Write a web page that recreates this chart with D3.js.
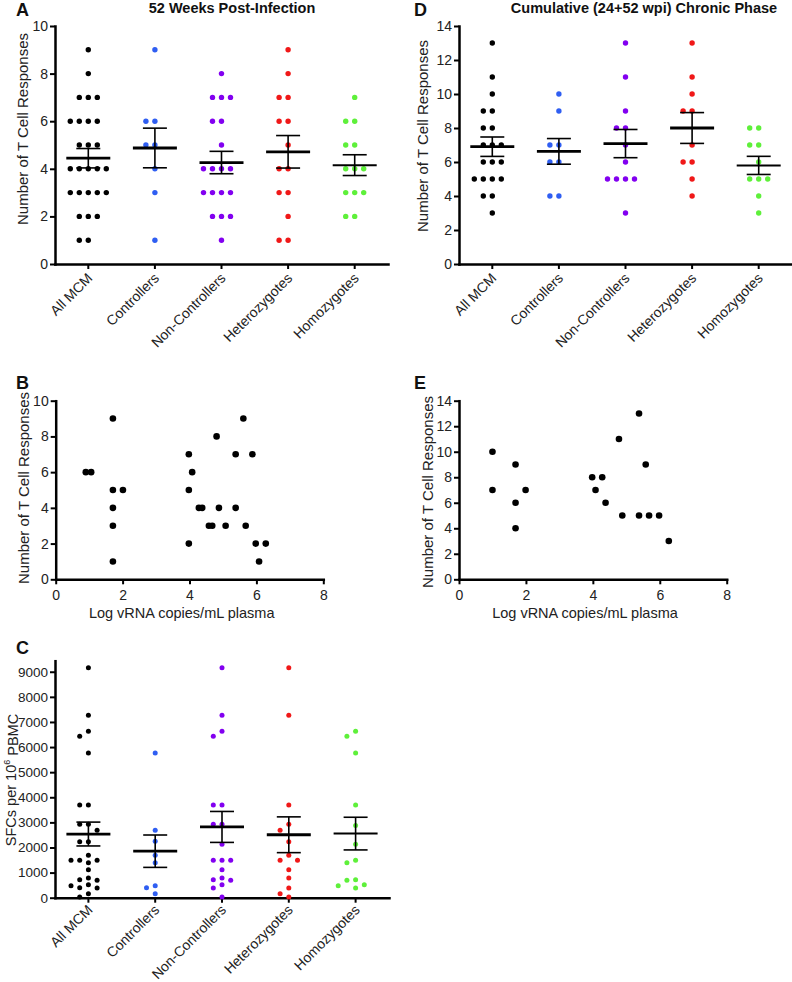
<!DOCTYPE html>
<html><head><meta charset="utf-8">
<script src="https://cdn.jsdelivr.net/npm/d3@7"></script>
<style>body{margin:0;background:#fff} svg{display:block}</style>
</head><body><svg id="chart" width="792" height="982"></svg>
<script>
const FONT = '"Liberation Sans", Arial, Helvetica, sans-serif';
const categories = ["All MCM", "Controllers", "Non-Controllers", "Heterozygotes", "Homozygotes"];
const groupColors = ["#000000", "#2f5ef2", "#8200f0", "#f01818", "#5ef03a"];

// Panel A: 52 weeks post-infection, number of T cell responses
const aAllMCM = [9,8,7,7,7,6,6,6,6,5,5,5,4,4,4,4,4,3,3,3,3,3,2,2,2,1,1];
const aControllers = [9,6,6,5,5,4,3,1];
const aNonControllers = [8,7,7,7,6,6,5,4,4,4,4,3,3,3,3,2,2,2,1];
const aHeterozygotes = [9,8,7,7,6,6,5,4,4,3,3,2,1,1];
const aHomozygotes = [7,6,6,5,5,4,4,4,3,3,3,2,2];
const aTicks = [0,2,4,6,8,10];

// Panel D: cumulative (24+52 wpi) chronic phase
const dAllMCM = [13,11,10,9,9,8,8,7,7,7,6,6,6,5,5,5,5,4,4,3];
const dControllers = [10,9,7,7,6,6,4,4];
const dNonControllers = [13,11,9,8,8,7,6,5,5,5,5,3];
const dHeterozygotes = [13,11,10,9,9,7,6,6,5,4];
const dHomozygotes = [8,8,7,7,6,5,5,5,4,3];
const dTicks = [0,2,4,6,8,10,12,14];

// Panel B: log vRNA vs responses (52 wpi)
const bLogVRNA = [0.9,1.06,1.71,1.71,2.01,1.71,1.71,1.71,3.98,4.08,3.98,3.98,4.28,4.38,4.81,4.88,4.58,4.68,5.08,5.61,5.38,5.88,5.38,5.68,5.98,6.28,6.08];
const bResponses = [6,6,9,5,5,4,3,1,7,6,5,2,4,4,8,4,3,3,3,9,7,7,4,3,2,2,1];
const bYTicks = [0,2,4,6,8,10];

// Panel E: log vRNA vs cumulative responses
const eLogVRNA = [1.0,1.0,1.69,1.69,1.69,1.99,3.98,4.28,4.08,4.38,4.78,4.88,5.38,5.58,5.38,5.68,5.98,6.27];
const eResponses = [10,7,9,6,4,7,8,8,7,6,11,5,13,9,5,5,5,3];
const eYTicks = [0,2,4,6,8,10,12,14];
const vrnaTicks = [0,2,4,6,8];

// Panel C: SFCs per 10^6 PBMC
const cAllMCM = [9157,7270,6632,6432,5768,3695,3695,2924,2924,2685,2233,2230,1688,1490,1490,1490,1395,1116,784,718,691,518,478,399,385,160,30];
const cControllers = [5768,2685,2246,1688,1395,478,399,160];
const cNonControllers = [9157,7270,6632,6432,3695,3695,2924,2924,2126,1488,1488,1488,1116,784,718,691,518,385,27];
const cHeterozygotes = [9157,7270,3695,2924,2685,2233,1688,1488,1488,1116,784,385,160,27];
const cHomozygotes = [6632,6432,5768,3695,2871,2126,1488,1395,718,691,518,478,385];
const cTicks = [0,1000,2000,3000,4000,5000,6000,7000,8000,9000];

const svg = d3.select("#chart");

function styleAxis(ax, fs) {
  ax.attr("font-family", FONT).attr("font-size", fs);
  ax.select(".domain").attr("stroke", "#000").attr("stroke-width", 2.5).attr("stroke-linecap", "square");
  ax.selectAll(".tick line").attr("stroke", "#000").attr("stroke-width", 2);
  ax.selectAll(".tick text").attr("fill", "#222");
}

function yAxis(scale, ticks, x, fmt) {
  const ax = svg.append("g").attr("transform", `translate(${x},0)`)
    .call(d3.axisLeft(scale).tickValues(ticks).tickSize(5).tickSizeOuter(0).tickPadding(2).tickFormat(fmt || d3.format("d")));
  styleAxis(ax, 14);
  return ax;
}

function yLabel(text, x, y, fs) {
  return svg.append("text").attr("transform", `translate(${x},${y}) rotate(-90)`)
    .attr("text-anchor", "middle").attr("dominant-baseline", "central")
    .attr("font-family", FONT).attr("font-size", fs || 15).attr("fill", "#222").text(text);
}

function panelLetter(t, x, y) {
  svg.append("text").attr("x", x).attr("y", y).attr("font-family", FONT)
    .attr("font-weight", "bold").attr("font-size", 18).attr("fill", "#111").text(t);
}

function swarm(values, yScale, thr) {
  const sorted = values.map(v => ({v, y: yScale(v)})).sort((a, b) => a.y - b.y);
  const placed = [];
  const cands = [0, -1, 1, -2, 2, -3, 3, -4, 4];
  sorted.forEach(p => {
    for (const k of cands) {
      if (!placed.some(q => q.k === k && Math.abs(q.y - p.y) < thr)) { p.k = k; break; }
    }
    placed.push(p);
  });
  return placed;
}

function dotPanel(cfg) {
  const x = d3.scaleBand().domain(categories).range([cfg.x0, cfg.x1]);
  const y = d3.scaleLinear().domain(cfg.domain).range([cfg.yBot, cfg.yTop]);
  const bw = x.bandwidth();
  const yax = yAxis(y, cfg.ticks, cfg.x0, cfg.fmt);
  if (cfg.tickFs) yax.attr("font-size", cfg.tickFs);
  const xax = svg.append("g").attr("transform", `translate(0,${cfg.yBot})`)
    .call(d3.axisBottom(x).tickSize(5).tickSizeOuter(0));
  styleAxis(xax, 14);
  xax.selectAll(".tick text").attr("x", 0).attr("y", 0).attr("dy", 0)
    .attr("text-anchor", "end").attr("transform", `translate(5,${cfg.labelDy}) rotate(-45)`);
  cfg.series.forEach((vals, i) => {
    const cx = x(categories[i]) + bw / 2;
    const pts = swarm(vals, y, cfg.thr);
    svg.append("g").selectAll("circle").data(pts).join("circle")
      .attr("cx", d => cx + d.k * cfg.step).attr("cy", d => d.y)
      .attr("r", cfg.r).attr("fill", groupColors[i]);
  });
  cfg.series.forEach((vals, i) => {
    const cx = x(categories[i]) + bw / 2;
    const m = d3.mean(vals);
    const se = d3.deviation(vals) / Math.sqrt(vals.length);
    const g = svg.append("g").attr("stroke", "#000");
    g.append("line").attr("x1", cx - 22).attr("x2", cx + 22).attr("y1", y(m)).attr("y2", y(m)).attr("stroke-width", i === 4 ? 2 : 2.8);
    g.append("line").attr("x1", cx).attr("x2", cx).attr("y1", y(m - se)).attr("y2", y(m + se)).attr("stroke-width", 1.6);
    [m - se, m + se].forEach(v => g.append("line").attr("x1", cx - 12).attr("x2", cx + 12).attr("y1", y(v)).attr("y2", y(v)).attr("stroke-width", 1.6));
  });
}

function scatterPanel(cfg) {
  const x = d3.scaleLinear().domain([0, 8]).range([cfg.x0, cfg.x1]);
  const y = d3.scaleLinear().domain(cfg.domain).range([cfg.yBot, cfg.yTop]);
  yAxis(y, cfg.ticks, cfg.x0);
  const xax = svg.append("g").attr("transform", `translate(0,${cfg.yBot})`)
    .call(d3.axisBottom(x).tickValues(vrnaTicks).tickSize(5).tickSizeOuter(0).tickPadding(6).tickFormat(d3.format("d")));
  styleAxis(xax, 14);
  svg.append("g").selectAll("circle").data(cfg.xs).join("circle")
    .attr("cx", d => x(d)).attr("cy", (d, i) => y(cfg.ys[i])).attr("r", 3.3).attr("fill", "#000");
  svg.append("text").attr("x", cfg.x0 + 126).attr("y", cfg.yBot + 39)
    .attr("text-anchor", "middle").attr("font-family", FONT).attr("font-size", 14.5).attr("fill", "#222")
    .text("Log vRNA copies/mL plasma");
}

panelLetter("A", 16, 16);
panelLetter("D", 414, 16);
panelLetter("B", 16, 389);
panelLetter("E", 414, 389);
panelLetter("C", 16, 654);
svg.append("text").attr("x", 232).attr("y", 13).attr("text-anchor", "middle").attr("font-family", FONT)
  .attr("font-weight", "bold").attr("font-size", 14.5).attr("fill", "#111").text("52 Weeks Post-Infection");
svg.append("text").attr("x", 644).attr("y", 13).attr("text-anchor", "middle").attr("font-family", FONT)
  .attr("font-weight", "bold").attr("font-size", 14.5).attr("fill", "#111").text("Cumulative (24+52 wpi) Chronic Phase");

dotPanel({x0: 55, x1: 388, yTop: 26, yBot: 264, domain: [0, 10], ticks: aTicks, r: 2.7, step: 9, thr: 6, labelDy: 15,
  series: [aAllMCM, aControllers, aNonControllers, aHeterozygotes, aHomozygotes]});
yLabel("Number of T Cell Responses", 22, 129);

dotPanel({x0: 459, x1: 792, yTop: 26, yBot: 264, domain: [0, 14], ticks: dTicks, r: 2.7, step: 9, thr: 6, labelDy: 15,
  series: [dAllMCM, dControllers, dNonControllers, dHeterozygotes, dHomozygotes]});
yLabel("Number of T Cell Responses", 422, 136);

scatterPanel({x0: 55.7, x1: 323.3, yTop: 400.7, yBot: 579.3, domain: [0, 10], ticks: bYTicks, xs: bLogVRNA, ys: bResponses});
yLabel("Number of T Cell Responses", 23, 488);

scatterPanel({x0: 459, x1: 726.7, yTop: 400.7, yBot: 579.3, domain: [0, 14], ticks: eYTicks, xs: eLogVRNA, ys: eResponses});
yLabel("Number of T Cell Responses", 427, 492);

dotPanel({x0: 55, x1: 389, yTop: 660.7, yBot: 897.7, domain: [0, 9440], ticks: cTicks, r: 2.5, step: 8.7, thr: 6.5, labelDy: 13,
  tickFs: 13.5, series: [cAllMCM, cControllers, cNonControllers, cHeterozygotes, cHomozygotes]});
const cl = yLabel("", 11, 780, 14.5);
cl.append("tspan").text("SFCs per 10");
cl.append("tspan").attr("dy", "-0.45em").attr("font-size", 9).text("6");
cl.append("tspan").attr("dy", "0.45em").text(" PBMC");
</script></body></html>
